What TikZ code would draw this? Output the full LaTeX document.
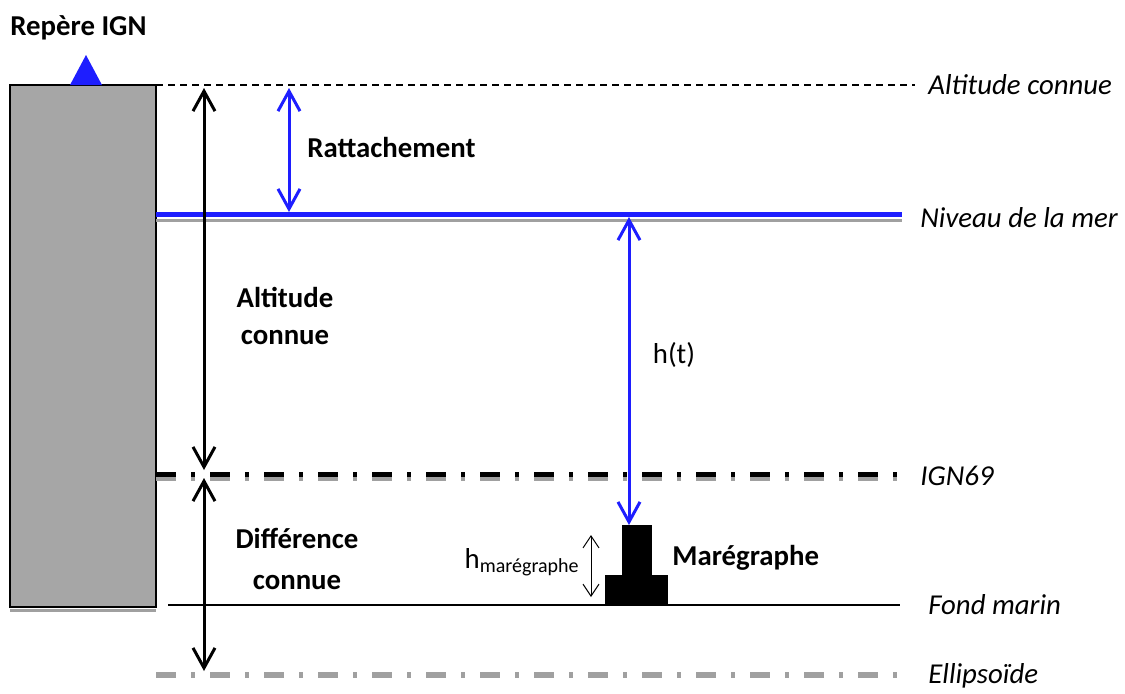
\documentclass[tikz,border=0pt]{standalone}
\usepackage{fontspec}
\setmainfont{Carlito}
\usetikzlibrary{arrows.meta}
\definecolor{bleumer}{RGB}{30,30,255}
\definecolor{grisrep}{RGB}{166,166,166}
\definecolor{grisombre}{RGB}{160,160,160}
\tikzset{
    niveau/.style={line width=2.5pt, dash pattern=on 10pt off 7.5pt on 2pt off 7.5pt},
    fleche/.style={line width=1.5pt, {Straight Barb[length=10pt,width=11pt]}-{Straight Barb[length=10pt,width=11pt]}},
    petitefleche/.style={line width=0.5pt, {Straight Barb[length=6pt,width=8pt]}-{Straight Barb[length=6pt,width=8pt]}},
    legende/.style={font=\fontsize{14.4}{17}\selectfont\itshape, anchor=west, inner sep=0pt},
    titre/.style={font=\fontsize{14.4}{18.5}\selectfont\bfseries, align=center, inner sep=0pt},
    texte/.style={font=\fontsize{14.4}{17}\selectfont, inner sep=0pt}
}
\begin{document}
\begin{tikzpicture}[x=0.5pt, y=-0.5pt]
    \useasboundingbox (0,0) rectangle (1125,693);
    % repere IGN
    \node[titre, anchor=west] (repere) at (10,28) {Repère IGN};
    \draw[grisombre, line width=1.5pt] (10,610) -- (156,610);
    \filldraw[
        fill = grisrep,
        draw = black,
        line width = 1pt
    ]
    (10,85) rectangle (156,607);
    \fill[bleumer] (70,85) -- (86,55) -- (102,85) -- cycle;
    % niveaux
    \coordinate (hautg) at (156,85);
    \coordinate (hautd) at (915,85);
    \coordinate (merg) at (156,214);
    \coordinate (merd) at (902,214);
    \coordinate (igng) at (156,474);
    \coordinate (ignd) at (905,474);
    \coordinate (fondg) at (168,605);
    \coordinate (fondd) at (900,605);
    \coordinate (ellg) at (156,675);
    \coordinate (elld) at (905,675);
    \draw[line width=0.75pt, dash pattern=on 3.5pt off 2.5pt] (hautg) -- (hautd);
    \draw[grisombre, line width=1.5pt] ([yshift=-3pt]merg) -- ([yshift=-3pt]merd);
    \draw[bleumer, line width=2.5pt] (merg) -- (merd);
    \draw[niveau, grisombre] ([yshift=-2pt]igng) -- ([yshift=-2pt]ignd);
    \draw[niveau, black] (igng) -- (ignd);
    \draw[line width=1pt] (fondg) -- (fondd);
    \draw[niveau, grisombre, line width=3pt] (ellg) -- (elld);
    \node[legende] (lhaut) at (928,85) {Altitude connue};
    \node[legende] (lmer) at (920,218) {Niveau de la mer};
    \node[legende] (lign) at (920,476) {IGN69};
    \node[legende] (lfond) at (928,605) {Fond marin};
    \node[legende] (lell) at (928,676) {Ellipsoïde};
    % maregraphe
    \fill (622,525) rectangle (652,576);
    \fill (605,575) rectangle (668,605);
    \node[titre, anchor=west] (mare) at (672,558) {Marégraphe};
    \coordinate (mhaut) at (591,535);
    \coordinate (mbas) at (591,597);
    \draw[petitefleche] (mhaut) -- (mbas);
    \node[texte, anchor=east] (hmare) at (580,562) {h\textsubscript{marégraphe}};
    % fleches
    \coordinate (a1) at (204,88);
    \coordinate (a2) at (204,470);
    \coordinate (a3) at (204,478);
    \coordinate (a4) at (204,671);
    \draw[fleche] (a1) -- (a2);
    \draw[fleche] (a3) -- (a4);
    \coordinate (r1) at (289,88);
    \coordinate (r2) at (289,212);
    \draw[fleche, bleumer] (r1) -- (r2);
    \coordinate (h1) at (629,217);
    \coordinate (h2) at (629,525);
    \draw[fleche, bleumer] (h1) -- (h2);
    \node[titre, anchor=west] (ratt) at (307,147) {Rattachement};
    \node[titre] (altc) at (285,316) {Altitude\\connue};
    \node[titre] (diff) at (297,559) {Différence\\[2pt]connue};
    \node[texte] (ht) at (674,355) {h(t)};
\end{tikzpicture}
\end{document}
